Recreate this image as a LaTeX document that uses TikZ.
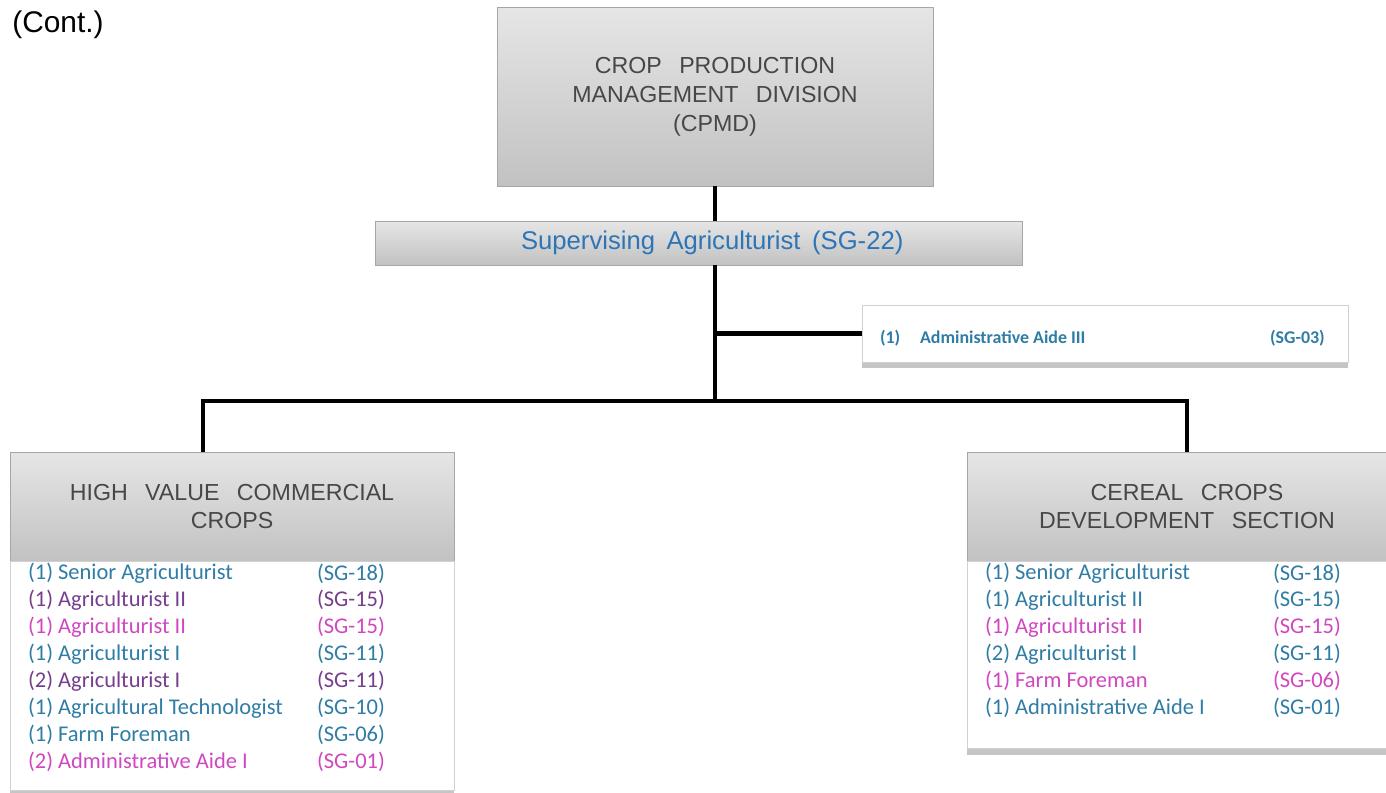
\documentclass[tikz,border=0pt]{standalone}
\usepackage{fontspec}
\setmainfont{Liberation Sans}
\newfontfamily\calib{Carlito}
\usetikzlibrary{positioning,shadows,calc}
\definecolor{cteal}{RGB}{47,125,165}
\definecolor{cviolet}{RGB}{118,62,140}
\definecolor{cpink}{RGB}{208,72,192}
\definecolor{cblue}{RGB}{46,117,182}
\newcommand{\gap}{\hspace{0.75em}}
\tikzset{
  bloc/.style={draw=black!35,top color=black!10,bottom color=black!24,align=center,
    inner sep=0pt,text=black!72,font=\fontsize{13.2}{16.5}\selectfont},
  head/.style={bloc,minimum width=8.88cm,minimum height=2.18cm},
  body/.style={draw=black!18,fill=white,minimum width=8.88cm,inner sep=0pt},
  shad/.style={drop shadow={shadow xshift=0pt,shadow yshift=-3.5pt,fill=black!45,opacity=.5}},
  fl/.style={line width=2.8pt},
  item/.style={anchor=west,inner sep=0pt,font=\calib\fontsize{12.8}{14}\selectfont},
}

\begin{document}
\begin{tikzpicture}[x=0.02cm,y=-0.02cm]
  \clip (0,0) rectangle (1386,792);
  \useasboundingbox (0,0) rectangle (1386,792);
  \node[anchor=west,inner sep=0pt,font=\fontsize{17}{20}\selectfont] (cont) at (12,25) {(Cont.)};
  % boxes
  \node[bloc,minimum width=8.72cm,minimum height=3.58cm] (cpmd) at (715,96.5)
    {CROP\gap PRODUCTION\\MANAGEMENT\gap DIVISION\\(CPMD)};
  \node[bloc,minimum width=12.94cm,minimum height=0.88cm,text=cblue,
    font=\fontsize{14.6}{16}\selectfont] (supv) at (698.5,243)
    {\hspace{0.55cm}Supervising\hspace{0.45em}Agriculturist\hspace{0.45em}(SG-22)};
  \node[body,shad,minimum width=9.72cm,minimum height=1.14cm] (aide) at (1105,333.5) {};
  \node[item,font=\calib\bfseries\fontsize{10.2}{12}\selectfont,text=cteal]
    (aidet) at ($(aide.west)+(18,5)$) {(1)\hspace{1.1em}Administrative Aide III};
  \node[item,font=\calib\bfseries\fontsize{10.2}{12}\selectfont,text=cteal]
    (aideg) at ($(aide.west)+(408,5)$) {(SG-03)};
  \node[head] (hvcc) at (232,506.5) {HIGH\gap VALUE\gap COMMERCIAL\\CROPS};
  \node[body,shad,minimum height=4.58cm,below=0pt of hvcc] (hvccbody) {};
  \node[head,minimum width=8.8cm] (ccds) at (1187,506.5) {CEREAL\gap CROPS\\DEVELOPMENT\gap SECTION};
  \node[body,shad,minimum width=8.8cm,minimum height=3.74cm,below=0pt of ccds] (ccdsbody) {};
  % staff lists
  \foreach \c/\t/\g [count=\i from 0] in {
      cteal/{(1) Senior Agriculturist}/{(SG-18)},
      cviolet/{(1) Agriculturist II}/{(SG-15)},
      cpink/{(1) Agriculturist II}/{(SG-15)},
      cteal/{(1) Agriculturist I}/{(SG-11)},
      cviolet/{(2) Agriculturist I}/{(SG-11)},
      cteal/{(1) Agricultural Technologist}/{(SG-10)},
      cteal/{(1) Farm Foreman}/{(SG-06)},
      cpink/{(2) Administrative Aide I}/{(SG-01)}}{
    \node[item,text=\c] (hv\i) at ($(hvccbody.north west)+(18,12+26.9*\i)$) {\t};
    \node[item,text=\c] (hvg\i) at ($(hvccbody.north west)+(307,12+26.9*\i)$) {\g};
  }
  \foreach \c/\t/\g [count=\i from 0] in {
      cteal/{(1) Senior Agriculturist}/{(SG-18)},
      cteal/{(1) Agriculturist II}/{(SG-15)},
      cpink/{(1) Agriculturist II}/{(SG-15)},
      cteal/{(2) Agriculturist I}/{(SG-11)},
      cpink/{(1) Farm Foreman}/{(SG-06)},
      cteal/{(1) Administrative Aide I}/{(SG-01)}}{
    \node[item,text=\c] (cc\i) at ($(ccdsbody.north west)+(18,12+26.8*\i)$) {\t};
    \node[item,text=\c] (ccg\i) at ($(ccdsbody.north west)+(306,12+26.8*\i)$) {\g};
  }
  % connectors
  \coordinate (bar) at (715,401);
  \coordinate (hvtop) at ($(hvcc.north)+(-29,0)$);
  \draw[fl] (cpmd.south) -- (cpmd.south |- supv.north);
  \draw[fl] (cpmd.south |- supv.south) -- (bar);
  \draw[fl] (cpmd.south |- aide.west) -- (aide.west);
  \draw[fl] (hvtop) -- (hvtop |- bar) -- (ccds.north |- bar) -- (ccds.north);
\end{tikzpicture}
\end{document}
